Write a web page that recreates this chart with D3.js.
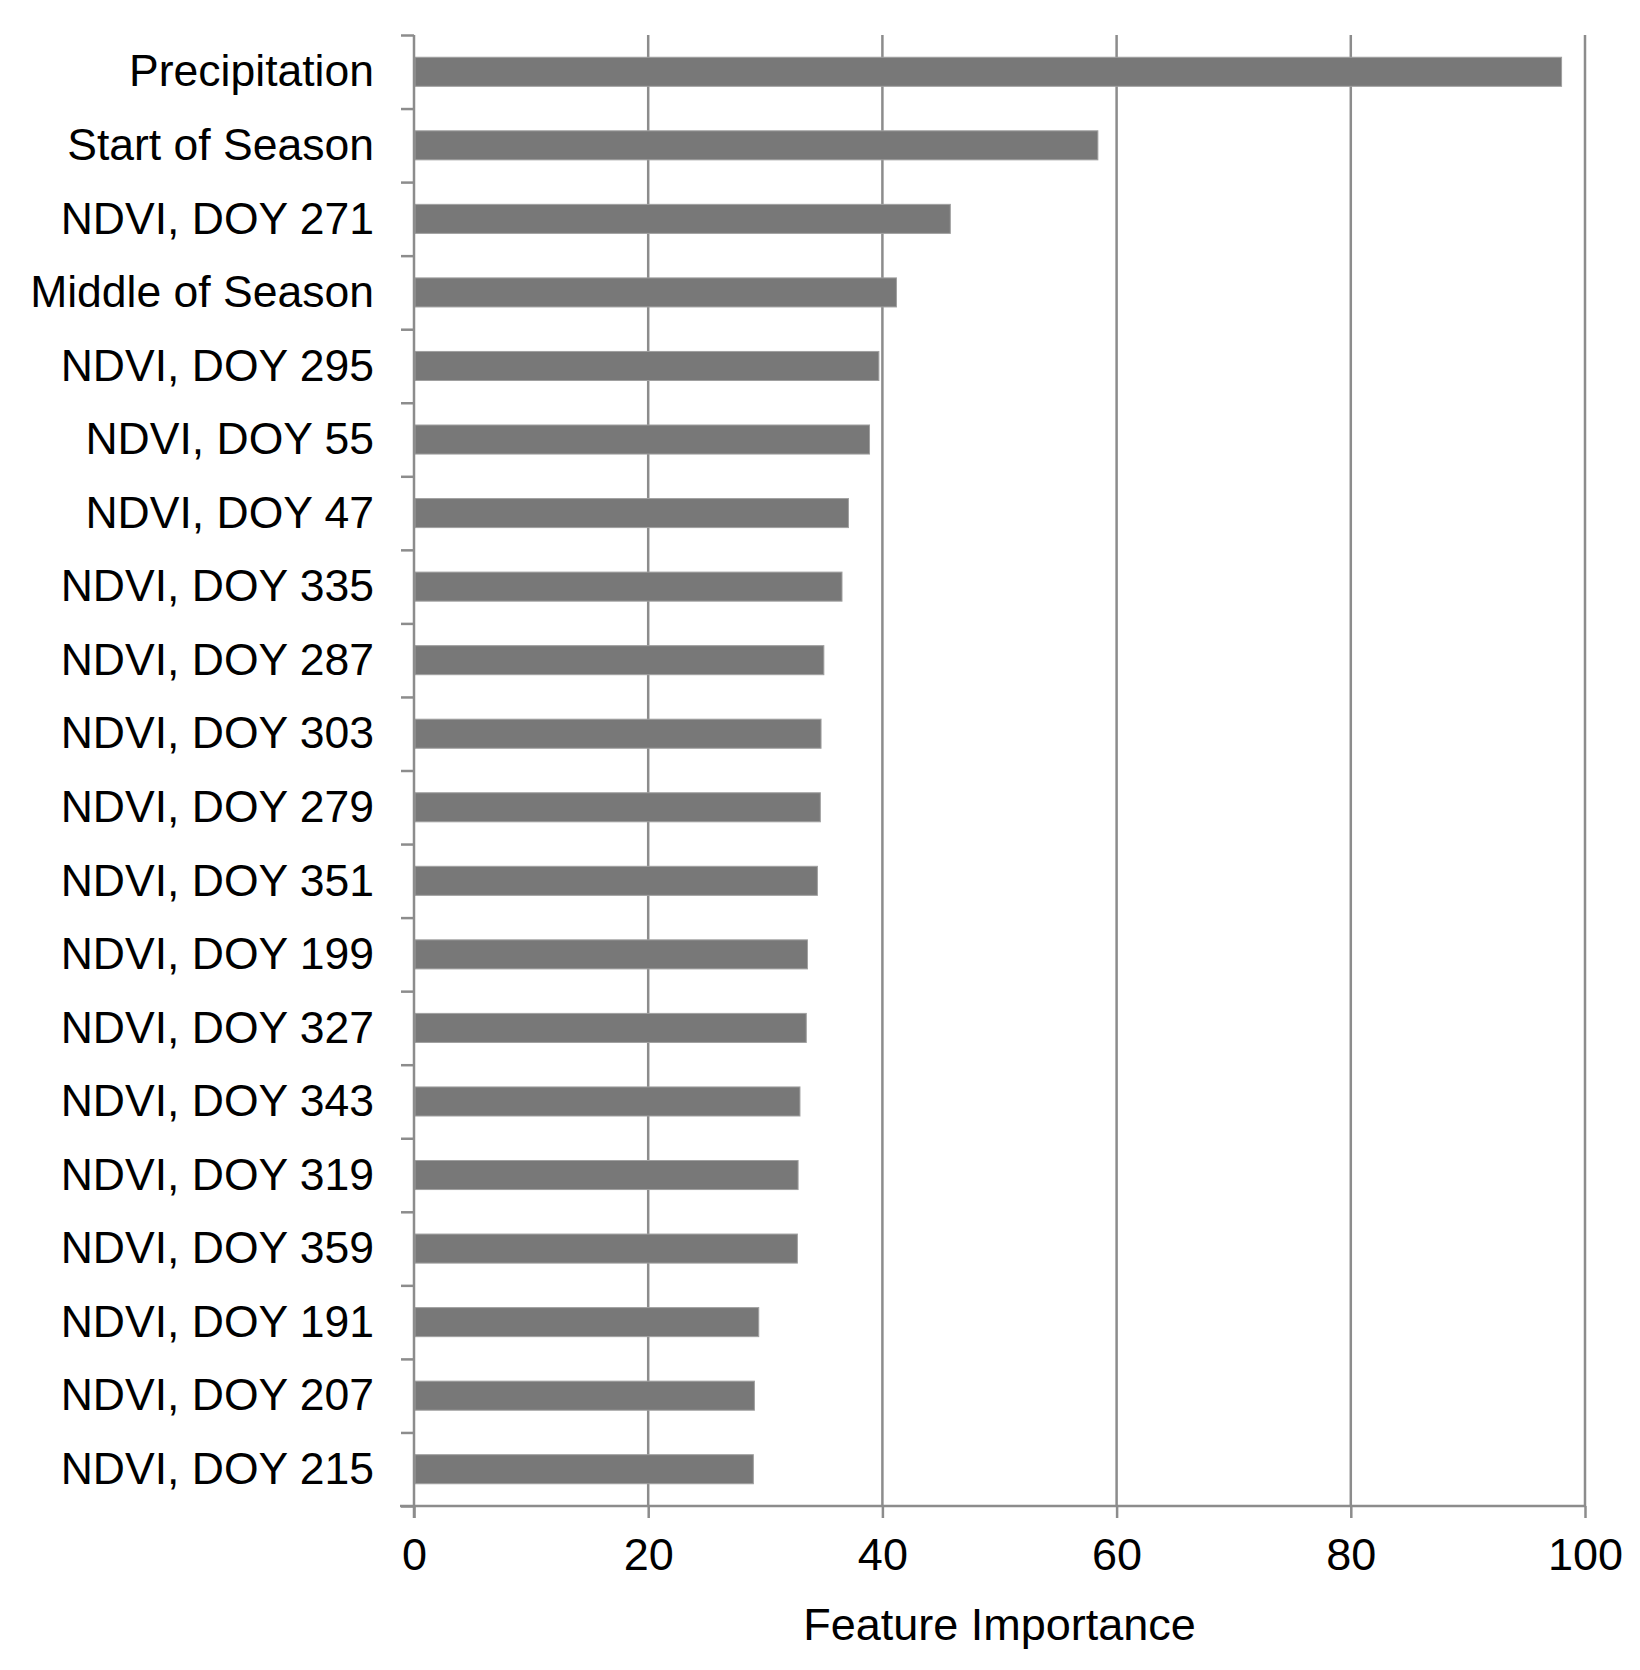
<!DOCTYPE html>
<html>
<head>
<meta charset="utf-8">
<script src="https://cdn.jsdelivr.net/npm/d3@7"></script>
<style>
  body { margin: 0; background: #fff; }
  text { font-family: "Liberation Sans", Arial, sans-serif; fill: #000; }
</style>
</head>
<body>
<svg id="chart" width="1640" height="1670"></svg>
<script>
// data, top to bottom
const features = [
    "Precipitation", "Start of Season", "NDVI, DOY 271", "Middle of Season",
    "NDVI, DOY 295", "NDVI, DOY 55", "NDVI, DOY 47", "NDVI, DOY 335",
    "NDVI, DOY 287", "NDVI, DOY 303", "NDVI, DOY 279", "NDVI, DOY 351",
    "NDVI, DOY 199", "NDVI, DOY 327", "NDVI, DOY 343", "NDVI, DOY 319",
    "NDVI, DOY 359", "NDVI, DOY 191", "NDVI, DOY 207", "NDVI, DOY 215"
]
const importance = [
    98.0, 58.4, 45.8, 41.2,
    39.7, 38.9, 37.1, 36.55,
    35.0, 34.76, 34.7, 34.45,
    33.6, 33.5, 32.96, 32.8,
    32.74, 29.44, 29.07, 28.98
]
const xTicks = [0, 20, 40, 60, 80, 100]
const xTitle = "Feature Importance"

const margin = { left: 414, top: 35, right: 55, bottom: 164 }
const width = 1640, height = 1670
const gridColor = "#8c8c8c"

const svg = d3.select("#chart")

const x = d3.scaleLinear()
    .domain([0, 100])
    .range([margin.left, width - margin.right])

const y = d3.scaleBand()
    .domain(features)
    .range([margin.top, height - margin.bottom])
    .paddingInner(0.605)
    .paddingOuter(0.3025)

// boundaries between categories for the y ticks
const yEdge = d3.scaleLinear()
    .domain([0, features.length])
    .range([margin.top, height - margin.bottom])

const bottom = height - margin.bottom

// vertical gridlines
svg.append("g")
    .selectAll("line")
    .data(xTicks.filter(d => d > 0))
    .join("line")
    .attr("x1", d => x(d)).attr("x2", d => x(d))
    .attr("y1", margin.top).attr("y2", bottom)
    .attr("stroke", gridColor)
    .attr("stroke-width", 2.5)

// bars
svg.append("g")
    .selectAll("rect")
    .data(features)
    .join("rect")
    .attr("x", x(0) + 1)
    .attr("y", d => y(d))
    .attr("width", (d, i) => x(importance[i]) - x(0) - 1)
    .attr("height", y.bandwidth())
    .attr("fill", "#787878")
    .attr("stroke", "#a0a0a0")
    .attr("stroke-width", 1)

// x axis
const xAxis = d3.axisBottom(x)
    .tickValues(xTicks)
    .tickSizeInner(12)
    .tickSizeOuter(0)
    .tickPadding(20)

const gx = svg.append("g")
    .attr("transform", "translate(0," + bottom + ")")
    .call(xAxis)
gx.select(".domain").remove()
gx.selectAll(".tick line").attr("stroke", gridColor).attr("stroke-width", 2.5)
gx.selectAll(".tick text")
    .attr("font-size", 45)
    .attr("font-family", "Liberation Sans, Arial, sans-serif")
    .attr("fill", "#000")
gx.append("line")
    .attr("x1", x(0) - 14).attr("x2", x(100) + 1)
    .attr("y1", 0).attr("y2", 0)
    .attr("stroke", gridColor)
    .attr("stroke-width", 2.5)

// y axis with ticks on category boundaries
const yAxis = d3.axisLeft(yEdge)
    .tickValues(d3.range(features.length + 1))
    .tickSizeInner(13)
    .tickSizeOuter(0)
    .tickFormat("")

const gy = svg.append("g")
    .attr("transform", "translate(" + x(0) + ",0)")
    .call(yAxis)
gy.select(".domain").remove()
gy.selectAll(".tick line").attr("stroke", gridColor).attr("stroke-width", 2.5)
gy.append("line")
    .attr("x1", 0).attr("x2", 0)
    .attr("y1", margin.top).attr("y2", bottom + 12)
    .attr("stroke", gridColor)
    .attr("stroke-width", 2.5)

// category labels
svg.append("g")
    .selectAll("text")
    .data(features)
    .join("text")
    .attr("x", 374)
    .attr("y", d => y(d) + y.bandwidth() / 2)
    .attr("dy", "0.33em")
    .attr("text-anchor", "end")
    .attr("font-size", 44.5)
    .text(d => d)

// axis title
svg.append("text")
    .attr("x", (x(0) + x(100)) / 2)
    .attr("y", 1640)
    .attr("text-anchor", "middle")
    .attr("font-size", 45)
    .text(xTitle)
</script>
</body>
</html>
